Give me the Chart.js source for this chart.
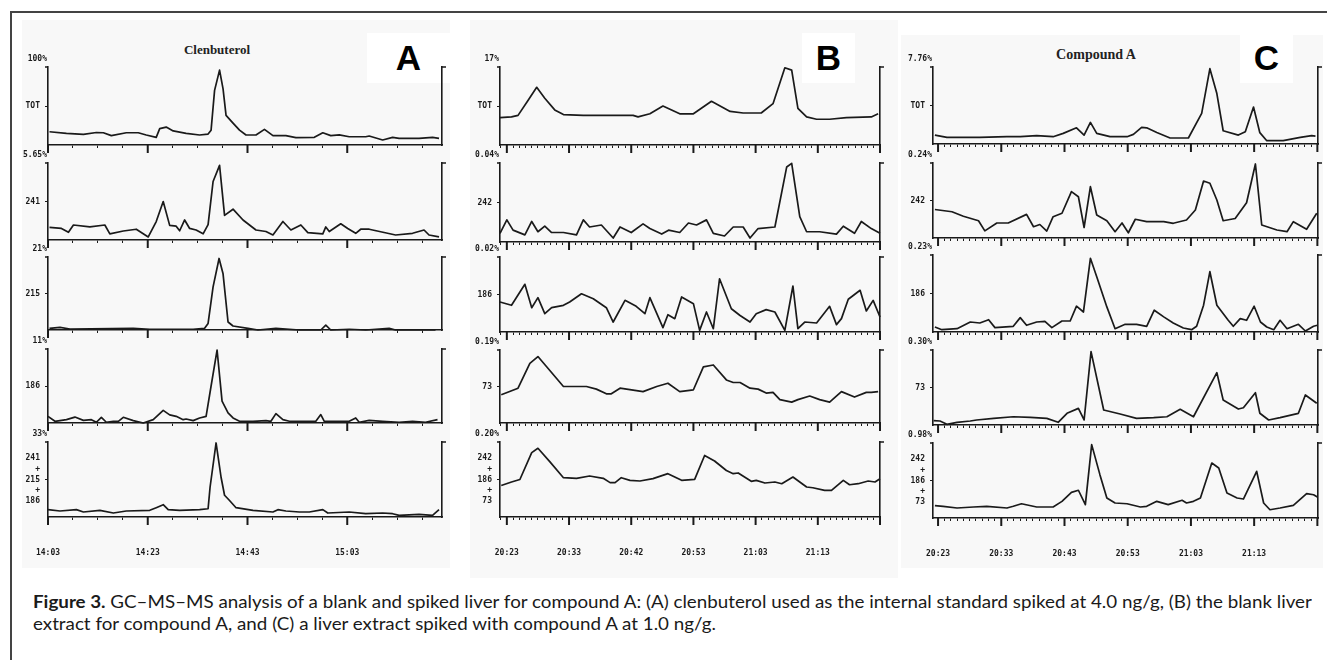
<!DOCTYPE html>
<html><head><meta charset="utf-8">
<script src="https://cdn.jsdelivr.net/npm/chart.js@4.4.0/dist/chart.umd.min.js"></script>
<style>
html,body{margin:0;padding:0;background:#fff;}
body{width:1327px;height:660px;position:relative;overflow:hidden;font-family:Lato,'Open Sans',sans-serif;}
.frame{position:absolute;left:10px;top:11px;width:1340px;height:700px;border-left:2px solid #444;border-top:2px solid #444;}
.panel{position:absolute;background:#f8f8f8;}
.tag{position:absolute;background:#fff;font:bold 35px 'Liberation Sans',Arial,sans-serif;color:#000;display:flex;align-items:center;justify-content:center;}
.title{position:absolute;font-weight:bold;font-family:'Liberation Serif',serif;color:#222;transform:translate(-50%,-50%);white-space:nowrap;}
canvas{position:absolute;}
.cap{position:absolute;left:33px;font-size:16.5px;line-height:20px;color:#1a1a1a;white-space:nowrap;transform-origin:0 0;}
</style></head><body>
<div class="frame"></div>
<div class="panel" style="left:22px;top:20px;width:428px;height:548px"></div>
<div class="panel" style="left:470px;top:20px;width:428px;height:558px"></div>
<div class="panel" style="left:901px;top:35px;width:422px;height:533px"></div>
<div class="tag" style="left:367px;top:33px;width:83px;height:50px">A</div>
<div class="tag" style="left:802px;top:33px;width:53px;height:50px">B</div>
<div class="tag" style="left:1240px;top:33px;width:53px;height:50px">C</div>
<div class="title" style="left:217px;top:50px;font-size:13px">Clenbuterol</div>
<div class="title" style="left:1096px;top:55px;font-size:14px">Compound A</div>
<div class="cap" id="cap1" style="top:592px"><b>Figure 3.</b> GC–MS–MS analysis of a blank and spiked liver for compound A: (A) clenbuterol used as the internal standard spiked at 4.0 ng/g, (B) the blank liver</div>
<div class="cap" id="cap2" style="top:614px">extract for compound A, and (C) a liver extract spiked with compound A at 1.0 ng/g.</div>
<script>
// ---- tick labels ----
const tickValuesA = [0, 20, 40, 60];
const tickLabelsA = ['14:03', '14:23', '14:43', '15:03'];
const tickValuesBC = [0, 10, 20, 30, 40, 50];
const tickLabelsB = ['20:23', '20:33', '20:42', '20:53', '21:03', '21:13'];
const tickLabelsC = ['20:23', '20:33', '20:43', '20:53', '21:03', '21:13'];
const scaleLabelsA = ['100%', '5.65%', '21%', '11%', '33%'];
const scaleLabelsB = ['17%', '0.04%', '0.02%', '0.19%', '0.20%'];
const scaleLabelsC = ['7.76%', '0.24%', '0.23%', '0.30%', '0.98%'];
const ionLabelsA = ['TOT', '241', '215', '186', ['241', '+', '215', '+', '186']];
const ionLabelsB = ['TOT', '242', '186', '73', ['242', '+', '186', '+', '73']];
const ionLabelsC = ['TOT', '242', '186', '73', ['242', '+', '186', '+', '73']];

// ---- panel A: clenbuterol (time units, relative abundance %) ----
const a1 = [[0.3,17],[3.7,15],[7.1,13.6],[9.7,16],[11.1,15.7],[12.7,12],[15.7,15.7],[18.1,15.7],[19.7,12.8],[21.7,9.8],[22.4,21],[23.7,23],[25.1,18],[27.7,15],[30.4,12.8],[32.1,14],[32.7,19],[33.4,70],[34.4,96],[35.1,72],[35.7,38],[37.1,28],[38.4,19],[39.7,12.8],[41.7,12.8],[43.4,20],[45.1,12],[47.7,12],[49.7,9.4],[53.4,9.8],[55.1,15.7],[56.7,12],[58.4,13],[60.4,10.6],[63.7,10.6],[64.4,11.5],[67.1,6.4],[69.1,9.8],[70.4,8.5],[74.4,8.5],[77.1,9.8],[78.4,8.5]];
const a2 = [[0.3,16.5],[2.7,15],[4.1,10],[5.1,19.5],[8.4,17],[11.4,19.5],[12.4,8],[15.1,11.7],[17.7,14],[20.1,4],[21.7,24],[23.1,50],[24.4,19],[25.7,18],[26.4,12],[27.4,26],[28.4,15],[29.7,13],[31.1,8],[32.1,20],[33.1,76],[34.4,97],[35.4,32],[37.1,40],[39.1,26],[41.7,13],[43.7,11],[45.1,6.5],[47.1,24],[48.7,13],[50.7,19.5],[52.1,9.5],[55.1,8],[55.7,17],[56.4,11],[58.7,21],[60.1,15],[61.7,8.7],[62.7,14],[64.4,14],[69.7,6.5],[73.1,8.7],[75.4,13],[76.4,6.5],[78.4,4]];
const a3 = [[0.3,2.3],[2.4,3.6],[4.4,1.4],[17.1,2.3],[20.4,1],[29.1,1],[31.4,2.3],[32.1,9],[33.1,59],[34.3,98],[35.1,77],[36.1,11],[37.1,5.5],[40.1,2.3],[42.1,0],[45.7,2.3],[50.4,0],[54.7,0],[55.7,6.8],[56.7,0],[60.4,1],[63.7,0],[68.4,2.3],[69.7,0],[77.7,0]];
const a4 = [[0,9],[1.4,2.3],[3.7,4.5],[5.4,8],[7.1,3.6],[8.7,4.5],[9.7,1],[10.7,7.7],[11.7,1],[13.1,2.3],[14.1,2.3],[15.1,7.7],[17.1,3.2],[19.1,0],[21.1,4.5],[23.1,17],[24.4,11],[25.7,9],[27.1,4.5],[27.7,5.4],[29.1,3.2],[30.4,6.8],[31.7,9],[32.7,50],[33.9,98.6],[34.9,29.5],[36.1,13.6],[37.1,6.8],[38.4,2.3],[41.1,2.3],[43.7,3.2],[44.7,2.3],[45.7,12.7],[47.1,4.5],[48.4,2.3],[50.4,2.3],[53.7,2.3],[54.7,11.4],[55.4,2.3],[60.4,2.3],[61.7,6.8],[62.4,1],[64.4,3.6],[67.1,2.3],[70.4,1],[73.1,2.3],[75.7,1],[78.1,4.5]];
const a5 = [[0,9.8],[2.4,8],[5.7,9.8],[7.1,6.7],[10.4,8.9],[13.1,5.3],[15.7,8],[20.4,8.9],[21.7,12.4],[23.1,16.4],[24.1,9.8],[26.4,8.9],[30.4,9.8],[32.1,11],[32.5,40],[33.7,98.7],[34.7,53],[35.4,29],[36.4,22],[37.7,12.4],[41.1,8.9],[45.1,6.7],[46.1,9.8],[47.7,8],[50.4,6.7],[52.4,6.7],[55.1,9.8],[56.1,5.3],[60.4,6.7],[63.7,4.4],[67.1,5.3],[69.1,4.4],[70.4,2.2],[74.4,3.6],[77.1,2.2],[78.4,9.8]];

// ---- panel B: blank liver ----
const b1 = [[-1.1,35],[0.75,36],[1.8,38],[3.4,57],[4.8,74],[6.1,60],[7.7,45],[9.1,39],[12.3,38],[20.3,38],[21.1,36],[23,40],[25.1,50],[27.8,40],[30,40],[32.9,56],[35.9,43],[38,41],[40.9,41],[42.8,53],[44.7,99],[45.8,96],[46.8,47],[48.2,36],[49.8,33],[51.9,33],[54.6,35],[58.6,36],[59.7,40]];
const b2 = [[-1.1,11],[0,28],[1,15],[2.9,9],[4,26],[5,13],[6.1,20],[7.2,12],[9.1,12],[11.2,9],[12.3,28],[13.3,19],[15.2,21.5],[17.1,5],[18.2,19],[20,12],[21.9,23],[23,17],[24.9,10],[26,15],[27.8,12],[29.2,24],[30.5,21.5],[32.1,28],[33.2,11],[35,7.6],[36.4,19],[38,19],[39.1,5],[40.4,17],[43.1,19],[45,95],[45.8,99.6],[47.1,32],[48.2,13],[50.3,13],[53,10],[54.1,20],[55.9,11],[57,26],[58.6,17],[60,11]];
const b3 = [[-1.1,40],[0.75,35.6],[2.9,63.6],[4,32.4],[5,45.8],[6.1,24.4],[7.2,32.4],[9.1,35.6],[10.1,40],[12,51],[13.9,44.4],[16,32.4],[17.1,13.3],[19,42.2],[20.8,34.2],[22.2,24.4],[23,45.8],[25.1,5.8],[25.9,23],[27,17.8],[28.1,46.7],[30,37.8],[31,2.2],[32.1,26.7],[33.2,4.4],[34.2,71],[36.1,31],[37.5,22],[39.1,13.3],[40.1,24.4],[41.7,29.8],[43.1,26.7],[44.7,2.2],[46,61.3],[46.8,4.4],[47.9,13.3],[49.8,12],[51.9,34.2],[53,9.8],[53.8,17.8],[54.9,43.6],[56.8,55.6],[57.8,28],[58.9,42.2],[60,20]];
const b4 = [[-0.9,38.6],[1.8,47.7],[3.7,81.8],[5,91],[6.4,77],[9.1,50],[12.8,50],[14.4,46.4],[16,40],[16.8,40],[18.2,47.7],[21.9,43],[24.1,50],[25.9,54.5],[27.8,43],[30,45.5],[31.6,77],[33.2,79.5],[35.3,59],[36.4,55.5],[37.5,55.5],[39.1,47.7],[40.4,46.4],[41.7,41],[42.8,42],[43.9,32],[45.8,28.6],[46.8,32],[48.7,37],[50.3,32],[51.9,28.6],[53.8,43],[55.9,35.5],[57.8,42],[58.6,42],[59.7,43]];
const b5 = [[-0.9,42],[0.75,46.7],[2.1,50],[4,85.8],[5,91.6],[6.9,73.8],[9.1,52.4],[11.2,51.6],[13.3,54.7],[15.5,51.6],[16.6,45.8],[17.4,45.8],[18.4,52.4],[19.8,48.9],[21.4,48],[23.5,51.1],[25.9,57.8],[28.1,48.9],[30.2,50.2],[31.8,82],[33.4,74.7],[35.3,62],[36.4,57.8],[37.2,58.7],[39.3,47.6],[40.1,48.9],[41.5,45.3],[43.1,46.7],[44.2,44.4],[46,53.3],[48.2,40],[49.2,39],[51.1,35.6],[52.2,35.6],[54.1,48.9],[55.1,43],[56.5,44.4],[58.1,48],[59.2,46.7],[60,51]];

// ---- panel C: spiked liver, compound A ----
const c1 = [[-0.5,11.6],[1.4,8.6],[4,8.6],[6.6,8.6],[10.9,9.5],[13,9.5],[15.6,10.8],[18.2,9.5],[19.8,13.8],[21.9,21],[23.1,11.6],[24.1,28],[25.1,13.8],[27.2,9.5],[29.9,9.5],[30.9,12.5],[32.2,21.6],[33,21],[34.6,15],[36.7,7.8],[39.6,7.8],[41.7,39.7],[43,97.8],[44.1,65.5],[45.1,17.2],[47.5,11.6],[48.6,16],[49.9,48],[50.9,14.7],[52,4.3],[54.6,4.3],[57.3,8.6],[59.1,10.8],[59.7,10.3]];
const c2 = [[-0.5,38],[2.2,35],[4,29],[6.4,23],[7.4,9.5],[9.3,20],[11.1,20],[14,31.5],[15.1,15],[16.1,18],[17.2,9.3],[18.2,28.4],[19.6,33],[21.1,61.8],[22.2,55],[23.1,14],[24.1,68.4],[25.1,30.7],[26.7,23],[28,8.4],[29.1,20],[30.1,7],[31.2,25],[33,21.8],[35.7,21.8],[37.2,19.6],[39.3,24],[40.7,37.3],[42,76],[43,73],[44.1,50.7],[45.1,23],[47,26],[48.8,47],[50.2,98.7],[51.2,17.3],[53.6,10.7],[55.2,8.4],[56.2,21.8],[58.3,11.6],[59.9,33]];
const c3 = [[-0.5,6.5],[0.6,3],[3,4.3],[5.1,13],[6.6,11.7],[8,16],[9,5.7],[11.9,7.4],[13,18.7],[14,8.7],[15.6,13],[16.9,13.9],[18,5.7],[19.6,14.3],[20.9,14.3],[21.9,33.5],[23,26],[24.1,95.7],[25.1,71.7],[26.7,32.6],[28,4.3],[29.6,10],[31.4,10],[33,7.4],[34.2,28.3],[35.7,19.6],[37.2,11.7],[38.8,5.2],[40.1,3],[40.9,7.4],[42,34.8],[43,78.3],[44.1,34.8],[45.9,15.2],[46.7,7.4],[47.8,17.4],[48.8,15.2],[50,33.5],[51,13],[52,6.5],[53.1,3],[54.1,15.2],[55.2,4.3],[57,10],[58.1,1.3],[59.4,7.4],[60,8.7]];
const c4 = [[-0.7,5.8],[0.3,5.3],[1.4,0.9],[3,3.6],[5.1,5.3],[6.1,6.7],[8.8,8.9],[11.9,11],[14.6,10.2],[17.2,8.9],[19,3.6],[20.4,15.6],[22.2,22.2],[23.1,6.7],[24.2,97.8],[26.2,20],[28.8,14.7],[31.4,8.9],[34.1,9.8],[36.2,11],[38.3,20.9],[40.4,11],[44.1,69.8],[45.1,33.3],[47.5,21.3],[48.3,23],[50.2,43],[50.9,15.6],[52.3,6.7],[54.1,9.8],[57,15.6],[58.1,40],[59.9,29]];
const c5 = [[-0.5,16.4],[0.8,15.6],[3,13.3],[5.6,14.7],[7.7,15.6],[10.9,13.3],[11.9,15.6],[13.2,19],[15.6,14.7],[18.2,14.7],[19.6,22.2],[21.1,34.2],[22.2,37],[23.3,17.8],[24.3,97.8],[25.6,57.8],[26.7,26.7],[28,20],[29.9,19],[32,14.7],[33,15.6],[34.6,22.2],[36.4,17.8],[38.6,23.6],[39.3,20],[40.4,22.2],[41.5,26.7],[43.3,73.3],[44.4,66.7],[45.7,33.3],[47.3,26.7],[48.3,25.3],[50.4,62.2],[51.5,20],[52.5,11],[54.1,13.3],[56.2,16.9],[58.3,32.4],[59.4,31],[60,28]];

// ---- layout (pixel geometry, not data) ----
const panels = [
  {left:48, right:442, tops:[67,163,257,349,442], bottoms:[145,240,330,423,517], min:0, max:79, step:5, majors:[0,20,40,60],
   tickValues:tickValuesA, tickLabels:tickLabelsA, scaleLabels:scaleLabelsA, ionLabels:ionLabelsA, series:[a1,a2,a3,a4,a5]},
  {left:500, right:880, tops:[67,163,257,350,442], bottoms:[145,242,332,423,517], min:-1.1, max:60, step:1, majors:[0,10,20,30,40,50,60],
   tickValues:tickValuesBC, tickLabels:tickLabelsB, scaleLabels:scaleLabelsB, ionLabels:ionLabelsB, series:[b1,b2,b3,b4,b5]},
  {left:933, right:1318, tops:[67,163,255,350,443], bottoms:[144,238,332,425,518], min:-0.8, max:60.1, step:1, majors:[0,10,20,30,40,50,60],
   tickValues:tickValuesBC, tickLabels:tickLabelsC, scaleLabels:scaleLabelsC, ionLabels:ionLabelsC, series:[c1,c2,c3,c4,c5]}
];

const INK = '#1a1a1a';
const smallFont = {family:'"DejaVu Sans Mono", monospace', size:8, weight:'bold'};

const decor = {
  id:'decor',
  afterDraw(chart, args, o) {
    const {ctx, chartArea:a, scales:{x}} = chart;
    ctx.save();
    ctx.strokeStyle = INK; ctx.lineWidth = 1.6;
    ctx.beginPath();
    ctx.moveTo(a.left-3, a.top); ctx.lineTo(a.left, a.top);
    ctx.moveTo(a.right, a.top); ctx.lineTo(a.right+4, a.top);
    ctx.stroke();
    ctx.lineWidth = 2;
    o.majors.forEach(v => {
      const px = x.getPixelForValue(v);
      ctx.beginPath(); ctx.moveTo(px, a.bottom); ctx.lineTo(px, a.bottom+8); ctx.stroke();
    });
    ctx.fillStyle = INK;
    ctx.font = 'bold 8px "DejaVu Sans Mono", monospace';
    ctx.textAlign = 'right'; ctx.textBaseline = 'middle';
    ctx.fillText(o.label, a.left-1, a.top-8);
    ctx.restore();
  }
};

function makeRow(p, r) {
  const isBottom = r === 4;
  const top = p.tops[r], bot = p.bottoms[r];
  const padTop = 16, leftW = 50, rightW = 8, botH = isBottom ? 48 : 12;
  const c = document.createElement('canvas');
  const w = (p.right - p.left) + leftW + rightW, h = (bot - top) + padTop + botH;
  c.width = w; c.height = h;
  c.style.width = w + 'px'; c.style.height = h + 'px';
  c.style.left = (p.left - leftW) + 'px'; c.style.top = (top - padTop) + 'px';
  document.body.appendChild(c);
  new Chart(c, {
    type: 'line',
    data: {datasets: [{data: p.series[r].map(([x, y]) => ({x, y})), borderColor: INK, borderWidth: 1.7,
      pointRadius: 0, tension: 0, fill: false, clip: 3, borderJoinStyle: 'round'}]},
    options: {
      responsive: false, animation: false, devicePixelRatio: 1,
      layout: {padding: {top: padTop, left: 0, right: 0, bottom: 0}},
      plugins: {legend: {display: false}, tooltip: {enabled: false},
        decor: {label: p.scaleLabels[r], majors: p.majors}},
      scales: {
        x: {type: 'linear', bounds: 'data', min: p.min, max: p.max, afterFit: s => { s.height = botH; },
          afterBuildTicks: s => {
            const t = [];
            for (let v = Math.ceil(p.min / p.step) * p.step; v <= p.max + 1e-9; v += p.step) t.push({value: Math.round(v * 100) / 100});
            s.ticks = t;
          },
          grid: {drawOnChartArea: false, drawTicks: true, tickLength: 3, color: INK, lineWidth: 1},
          border: {display: true, color: INK, width: 1.6},
          ticks: {autoSkip: false, maxRotation: 0, minRotation: 0, padding: 3,
            font: {...smallFont, lineHeight: 1.5}, color: INK,
            callback: v => {
              if (!isBottom) return '';
              const i = p.tickValues.indexOf(Math.round(v * 100) / 100);
              return i >= 0 ? ['', '', p.tickLabels[i]] : '';
            }}},
        y: {min: 0, max: 100, afterFit: s => { s.width = leftW; },
          afterBuildTicks: s => { s.ticks = [{value: 0}, {value: 50}, {value: 100}]; },
          grid: {drawOnChartArea: false, drawTicks: true, tickLength: 3,
            color: ctx => (ctx.tick && ctx.tick.value === 50) ? INK : 'rgba(0,0,0,0)'},
          border: {display: true, color: INK, width: 1.6},
          ticks: {autoSkip: false, padding: 5, font: {...smallFont, lineHeight: 1.35}, color: INK,
            callback: v => v === 50 ? p.ionLabels[r] : ''}},
        y2: {position: 'right', min: 0, max: 100, afterFit: s => { s.width = rightW; },
          grid: {drawOnChartArea: false, drawTicks: false},
          border: {display: true, color: INK, width: 1.6},
          ticks: {display: false}}
      }
    },
    plugins: [decor]
  });
}

panels.forEach(p => { for (let r = 0; r < 5; r++) makeRow(p, r); });

// fit caption lines to the reference width
const cap1 = document.getElementById('cap1'), cap2 = document.getElementById('cap2');
const k = 1279 / cap1.scrollWidth;
cap1.style.transform = `scaleX(${k})`;
cap2.style.transform = `scaleX(${k})`;
</script>
</body></html>
